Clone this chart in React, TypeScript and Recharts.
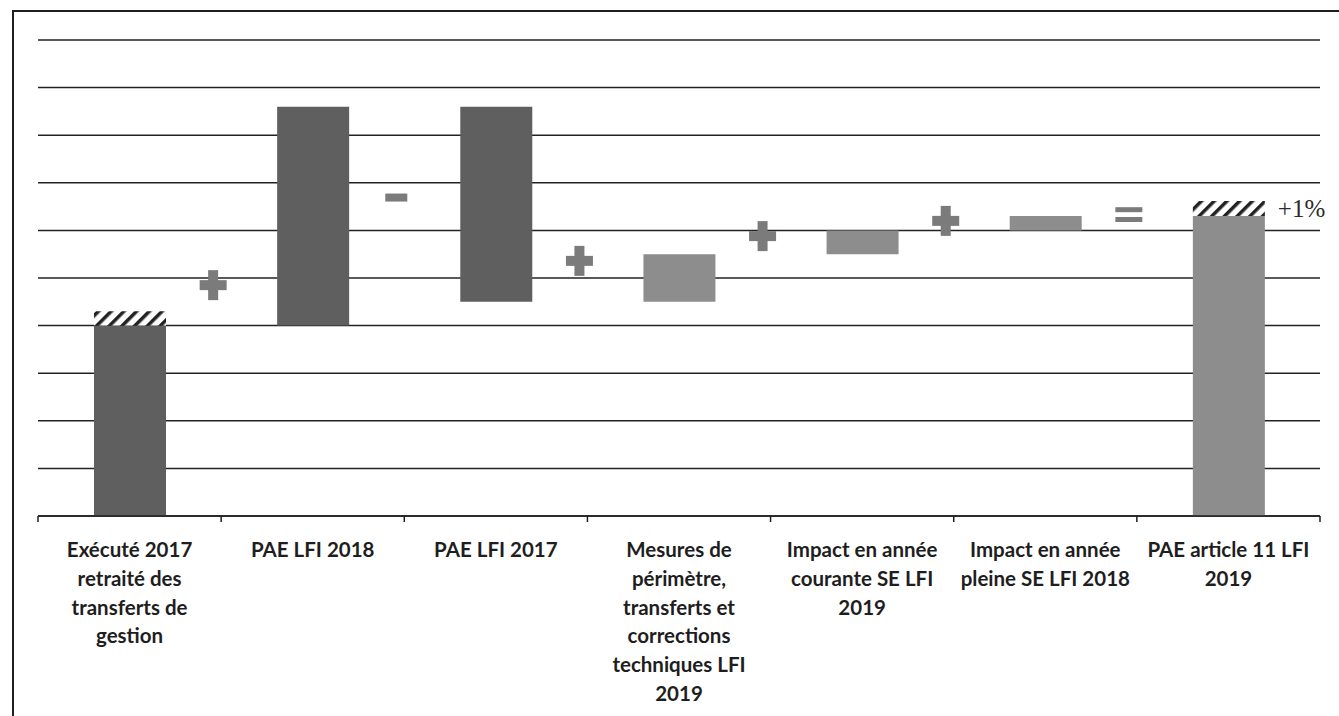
import React from "react";
import {
  ComposedChart,
  Bar,
  Line,
  XAxis,
  YAxis,
  CartesianGrid,
  Cell,
  LabelList,
} from "recharts";

// categories (line breaks as in the original labels)
const categories = [
  "Exécuté 2017\nretraité des\ntransferts de\ngestion",
  "PAE LFI 2018",
  "PAE LFI 2017",
  "Mesures de\npérimètre,\ntransferts et\ncorrections\ntechniques LFI\n2019",
  "Impact en année\ncourante SE LFI\n2019",
  "Impact en année\npleine SE LFI 2018",
  "PAE article 11 LFI\n2019",
];

// waterfall: invisible base + visible block + hatched extra
const baseValues = [0, 4.0, 4.5, 4.5, 5.5, 6.0, 0];
const blockValues = [4.0, 4.6, 4.1, 1.0, 0.5, 0.3, 6.3];
const hatchValues = [0.3, 0, 0, 0, 0, 0, 0.32];
const hatchLabels = ["", "", "", "", "", "", "+1%"];

// operator signs between the columns and their height
const operators = ["+", "-", "+", "+", "+", "=", ""];
const operatorLevels = [4.85, 6.69, 5.36, 5.88, 6.2, 6.33, null];

const yTicks = [0, 1, 2, 3, 4, 5, 6, 7, 8, 9, 10];

const WIDTH = 1339;
const HEIGHT = 716;
const MARGIN = { top: 40, right: 19, left: 38, bottom: 10 };
const PLOT_W = WIDTH - MARGIN.left - MARGIN.right;
const BAND = PLOT_W / categories.length;

const DARK = "#5f5f5f";
const LIGHT = "#8d8d8d";
const SIGN = "#7b7b7b";
const INK = "#1e1e1e";

const data = categories.map((name, i) => ({
  name,
  base: baseValues[i],
  block: blockValues[i],
  hatch: hatchValues[i],
  hatchLabel: hatchLabels[i],
  opLevel: operatorLevels[i],
}));

function CategoryTick(props: any) {
  const { x, y, payload } = props;
  const lines = String(payload.value).split("\n");
  const isLast = payload.index === categories.length - 1;
  return (
    <g>
      <line x1={x - BAND / 2} x2={x - BAND / 2} y1={y} y2={y + 6} stroke={INK} strokeWidth={1.5} />
      {isLast && (
        <line x1={x + BAND / 2} x2={x + BAND / 2} y1={y} y2={y + 6} stroke={INK} strokeWidth={1.5} />
      )}
      <text
        x={x}
        y={y + 41}
        textAnchor="middle"
        fill={INK}
        fontFamily="Lato, sans-serif"
        fontWeight={700}
        fontSize={20.5}
      >
        {lines.map((l, i) => (
          <tspan key={i} x={x} dy={i === 0 ? 0 : 28.8}>
            {l}
          </tspan>
        ))}
      </text>
    </g>
  );
}

function OperatorSign(props: any) {
  const { cx, cy, index } = props;
  const sign = operators[index];
  if (cy == null || cx == null || !sign) return <g key={`op-${index}`} />;
  const x = cx + BAND / 2 - 8;
  if (sign === "+") {
    return (
      <g key={`op-${index}`} fill={SIGN}>
        <rect x={x - 13.5} y={cy - 5} width={27} height={10} />
        <rect x={x - 5} y={cy - 15} width={10} height={30} />
      </g>
    );
  }
  if (sign === "-") {
    return (
      <g key={`op-${index}`} fill={SIGN}>
        <rect x={x - 11} y={cy - 4} width={22} height={8} />
      </g>
    );
  }
  return (
    <g key={`op-${index}`} fill={SIGN}>
      <rect x={x - 13.5} y={cy - 7.5} width={27} height={5} />
      <rect x={x - 13.5} y={cy + 2.3} width={27} height={5} />
    </g>
  );
}

function HatchLabel(props: any) {
  const { x, y, width, height, value } = props;
  if (!value) return null;
  return (
    <text
      x={x + width + 13}
      y={y + height / 2 + 8}
      fill="#2a2a2a"
      fontFamily="'Liberation Serif', serif"
      fontSize={25}
    >
      {value}
    </text>
  );
}

export default function App() {
  return (
    <div style={{ position: "fixed", left: 0, top: 0, width: WIDTH, height: HEIGHT, background: "#fff" }}>
      <div
        style={{
          position: "absolute",
          left: 12,
          top: 10,
          right: 0,
          bottom: 0,
          borderLeft: `2px solid ${INK}`,
          borderTop: `2px solid ${INK}`,
        }}
      />
      <div style={{ position: "absolute", left: 0, top: 0 }}>
        <ComposedChart width={WIDTH} height={HEIGHT} data={data} margin={MARGIN}>
          <defs>
            <pattern id="hatch" patternUnits="userSpaceOnUse" width={9} height={9} patternTransform="rotate(45)">
              <rect width={9} height={9} fill="#fff" />
              <rect width={3.5} height={9} fill="#222" />
            </pattern>
          </defs>
          <CartesianGrid vertical={false} stroke="#222" strokeWidth={1.5} />
          <XAxis
            dataKey="name"
            height={190}
            interval={0}
            tickLine={false}
            tickSize={0}
            tickMargin={0}
            axisLine={{ stroke: INK, strokeWidth: 1.5 }}
            tick={<CategoryTick />}
          />
          <YAxis hide domain={[0, 10]} ticks={yTicks} />
          <Bar dataKey="base" stackId="w" fill="transparent" barSize={72} isAnimationActive={false} />
          <Bar dataKey="block" stackId="w" barSize={72} isAnimationActive={false}>
            {data.map((_, i) => (
              <Cell key={i} fill={i < 3 ? DARK : LIGHT} />
            ))}
          </Bar>
          <Bar dataKey="hatch" stackId="w" fill="url(#hatch)" barSize={72} isAnimationActive={false}>
            <LabelList dataKey="hatchLabel" content={<HatchLabel />} />
          </Bar>
          <Line
            dataKey="opLevel"
            stroke="none"
            dot={(p: any) => <OperatorSign {...p} key={`op-${p.index}`} />}
            activeDot={false}
            legendType="none"
            isAnimationActive={false}
          />
        </ComposedChart>
      </div>
    </div>
  );
}
